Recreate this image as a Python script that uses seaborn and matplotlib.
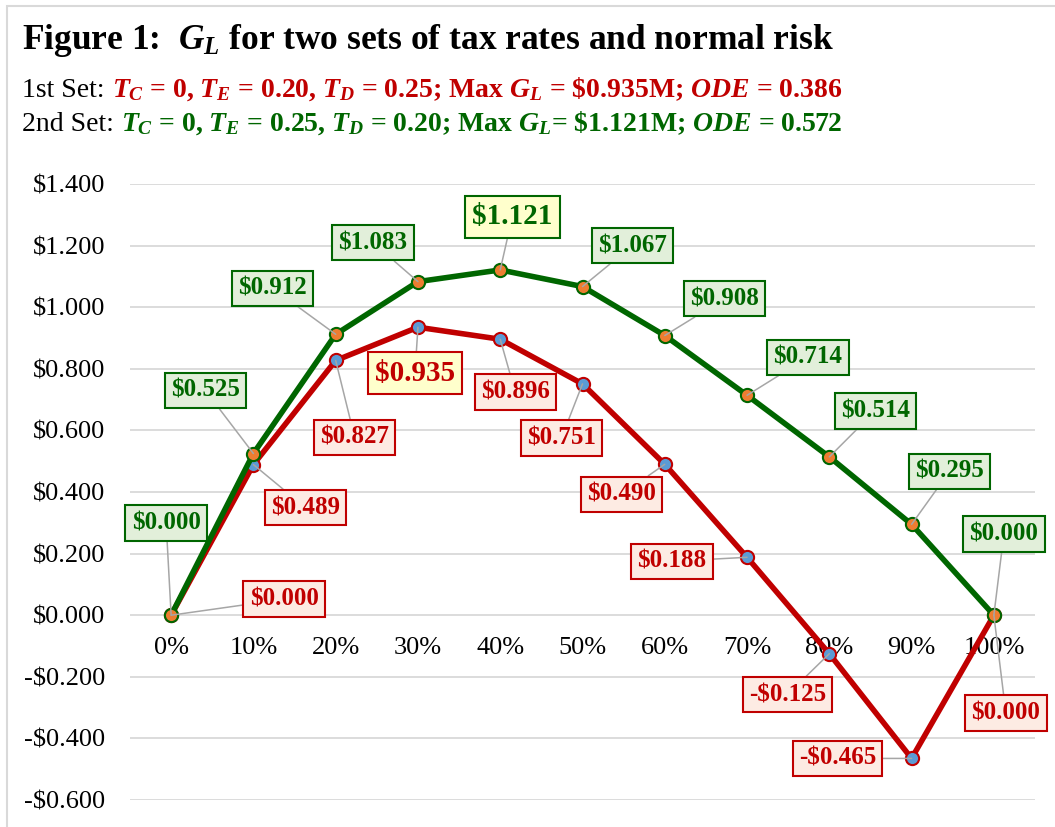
import numpy as np
import pandas as pd
import matplotlib.pyplot as plt
import seaborn as sns
from matplotlib.patches import Rectangle

# debt ratio (share of debt) and G_L in $M for the two sets of tax rates
debt = [0.0, 0.1, 0.2, 0.3, 0.4, 0.5, 0.6, 0.7, 0.8, 0.9, 1.0]
set1 = [0.000, 0.489, 0.827, 0.935, 0.896, 0.751, 0.490, 0.188, -0.125, -0.465, 0.000]
set2 = [0.000, 0.525, 0.912, 1.083, 1.121, 1.067, 0.908, 0.714, 0.514, 0.295, 0.000]

# label offsets from the points, in pixels (x right, y up)
off1 = [(113, 16), (52, -43), (19, -77), (-3, -46), (15, -53), (-21, -54),
        (-43, -30), (-75, -4), (-42, -41), (-74, 0), (12, -98)]
off2 = [(-5, 92), (-48, 63), (-63, 46), (-45, 39), (12, 53), (50, 41),
        (60, 37), (61, 38), (46, 46), (38, 53), (10, 81)]

W, H = 1055, 827
RED = "#C00000"
GREEN = "#006600"

sns.set_theme(style="white")
plt.rcParams["font.family"] = ["Liberation Serif", "DejaVu Serif"]
plt.rcParams["mathtext.fontset"] = "custom"
plt.rcParams["mathtext.it"] = "Liberation Serif:italic:bold"
plt.rcParams["mathtext.rm"] = "Liberation Serif:bold"
plt.rcParams["mathtext.bf"] = "Liberation Serif:bold"


def money(v):
    return f"-${abs(v):.3f}" if v < 0 else f"${v:.3f}"


fig = plt.figure(figsize=(W / 100, H / 100), dpi=100)
fig.patch.set_facecolor("white")
fig.patches.append(Rectangle((7 / W, -1), 5, 2 - 6 / H, transform=fig.transFigure,
                             fill=False, ec="#D9D9D9", lw=1.5))

ax = fig.add_axes([130 / W, 1 - 800 / H, 905 / W, 616 / H])

sns.lineplot(x=debt, y=set1, ax=ax, color=RED, lw=4, marker="o", markersize=9.5,
             markerfacecolor="#5B9BD5", markeredgecolor=RED, markeredgewidth=1.5, zorder=3)
sns.lineplot(x=debt, y=set2, ax=ax, color=GREEN, lw=4, marker="o", markersize=9.5,
             markerfacecolor="#ED7D31", markeredgecolor=GREEN, markeredgewidth=1.5, zorder=3)

imax1 = int(np.argmax(set1))
imax2 = int(np.argmax(set2))

for vals, offs, color, fill, imax in [(set1, off1, RED, "#FDEBE3", imax1),
                                      (set2, off2, GREEN, "#E2EFDA", imax2)]:
    for i, (x, v) in enumerate(zip(debt, vals)):
        big = i == imax
        ax.annotate(money(v), xy=(x, v), xytext=offs[i], textcoords="offset pixels",
                    ha="center", va="center", fontsize=21 if big else 18,
                    fontweight="bold", color=color, zorder=5,
                    bbox=dict(boxstyle="square,pad=0.25", fc="#FFFFCC" if big else fill,
                              ec=color, lw=1.5),
                    arrowprops=dict(arrowstyle="-", color="#A6A6A6", lw=1.1,
                                    shrinkA=0, shrinkB=0))

ax.set_xlim(-0.05, 1.05)
ax.set_ylim(-0.6, 1.4)
ax.set_xticks(debt)
ax.set_xticklabels([f"{round(d * 100)}%" for d in debt])
yt = np.linspace(-0.6, 1.4, 11)
ax.set_yticks(yt)
ax.set_yticklabels([money(v) for v in yt])
ax.tick_params(axis="both", length=0, labelsize=19, colors="black")
ax.tick_params(axis="y", pad=18)
ax.tick_params(axis="x", pad=16)
ax.spines["bottom"].set_position(("data", 0))
for s in ax.spines.values():
    s.set_color("none")
ax.yaxis.grid(True, color="#D9D9D9", lw=1.3)
ax.xaxis.grid(False)
ax.set_xlabel("")
ax.set_ylabel("")

renderer = fig.canvas.get_renderer()


def rich(x, y, parts, size):
    for s, color, weight in parts:
        t = fig.text(x, y, s, color=color, fontsize=size, fontweight=weight,
                     ha="left", va="baseline")
        x = t.get_window_extent(renderer).x1 / W


rich(22 / W, 1 - 49 / H,
     [(r"Figure 1:  $G_L$ for two sets of tax rates and normal risk", "black", "bold")], 25.5)
rich(22 / W, 1 - 97 / H,
     [("1st Set: ", "black", "normal"),
      (r"$T_C$ = 0, $T_E$ = 0.20, $T_D$ = 0.25; Max $G_L$ = \$0.935M; $ODE$ = 0.386", RED, "bold")], 20)
rich(22 / W, 1 - 131 / H,
     [("2nd Set: ", "black", "normal"),
      (r"$T_C$ = 0, $T_E$ = 0.25, $T_D$ = 0.20; Max $G_L$= \$1.121M; $ODE$ = 0.572", GREEN, "bold")], 20)

fig.savefig("out.png", dpi=100)
